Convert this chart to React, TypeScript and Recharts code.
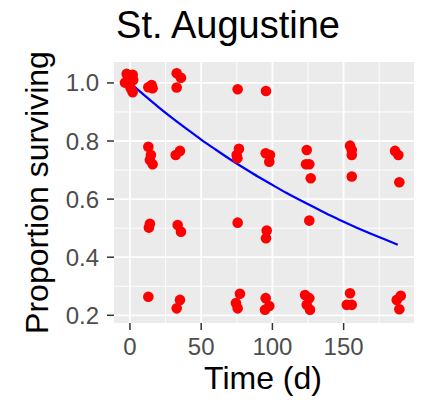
import React from 'react';
import { ComposedChart, Scatter, Line, XAxis, YAxis, CartesianGrid } from 'recharts';

// observed proportions, jittered around each sampling day
const obsTime = [
  -2.3, 1.9, -3.5, 2.3, 0.5, 1.9,
  12.9, 15.2, 15.9, 12.9, 14.7, 14.0, 15.9, 13.3, 14.0, 12.9,
  32.8, 35.8, 32.8, 32.1, 35.1, 33.5, 35.8, 32.8, 35.1,
  75.6, 76.5, 74.9, 75.4, 75.6, 77.2, 74.4, 75.6,
  95.5, 95.3, 98.3, 97.8, 96.0, 95.5, 95.3, 97.8, 94.8,
  124.1, 123.6, 125.9, 126.9, 125.9, 122.9, 125.9, 124.1, 126.4,
  154.5, 155.7, 155.7, 155.7, 154.5, 152.2, 155.7,
  186.1, 188.4, 189.1, 187.3, 190.1, 189.1,
];
const obsProp = [
  1.031, 1.028, 1.001, 1.01, 0.982, 0.968,
  0.985, 0.993, 0.982, 0.78, 0.752, 0.735, 0.72, 0.502, 0.515, 0.264,
  1.033, 1.018, 0.984, 0.752, 0.766, 0.511, 0.488, 0.224, 0.253,
  0.978, 0.773, 0.752, 0.741, 0.519, 0.274, 0.242, 0.224,
  0.972, 0.758, 0.752, 0.729, 0.492, 0.465, 0.259, 0.232, 0.219,
  0.769, 0.72, 0.72, 0.672, 0.526, 0.27, 0.259, 0.236, 0.219,
  0.784, 0.769, 0.752, 0.678, 0.276, 0.236, 0.236,
  0.766, 0.752, 0.658, 0.253, 0.267, 0.221,
];

// fitted curve
const fitTime = [0, 10, 20, 30, 40, 50, 60, 70, 80, 90, 100, 110, 120, 130, 140, 150, 160, 170, 180, 188];
const fitProp = [1.0, 0.958, 0.917, 0.878, 0.841, 0.805, 0.771, 0.738, 0.707, 0.677, 0.649, 0.621, 0.595, 0.57, 0.545, 0.522, 0.5, 0.479, 0.459, 0.443];

const xTicks = [0, 50, 100, 150];
const yTicks = [0.2, 0.4, 0.6, 0.8, 1.0];
const xMinor = [25, 75, 125, 175];
const yMinor = [0.3, 0.5, 0.7, 0.9];

const points = obsTime.map((t, i) => ({ t, p: obsProp[i] }));
const curve = fitTime.map((t, i) => ({ t, p: fitProp[i] }));

const font = '"Liberation Sans", Arial, sans-serif';
const tickStyle = { fontSize: 24, fill: '#4D4D4D', fontFamily: font };

export default function App() {
  return (
    <div style={{ position: 'absolute', left: 0, top: 0, width: 423, height: 402, background: '#fff' }}>
      <ComposedChart width={423} height={402} margin={{ top: 62, right: 9, bottom: 0, left: 0 }}>
        <CartesianGrid
          fill="#EBEBEB"
          stroke="#fff"
          strokeWidth={0.9}
          horizontalValues={yMinor}
          verticalValues={xMinor}
        />
        <CartesianGrid stroke="#fff" strokeWidth={1.8} horizontalValues={yTicks} verticalValues={xTicks} />
        <XAxis
          type="number"
          dataKey="t"
          domain={[-11.2, 199.4]}
          allowDataOverflow
          ticks={xTicks}
          height={79}
          axisLine={false}
          tickSize={7}
          tickMargin={8}
          tickLine={{ stroke: '#333', strokeWidth: 1.5 }}
          tick={tickStyle}
        />
        <YAxis
          type="number"
          dataKey="p"
          domain={[0.1735, 1.072]}
          allowDataOverflow
          ticks={yTicks}
          width={114}
          axisLine={false}
          tickSize={7}
          tickMargin={8}
          tickLine={{ stroke: '#333', strokeWidth: 1.5 }}
          tick={tickStyle}
          tickFormatter={(v: number) => v.toFixed(1)}
        />
        <Scatter
          data={points}
          dataKey="p"
          fill="#FF0000"
          isAnimationActive={false}
          shape={(props: any) => <circle cx={props.cx} cy={props.cy} r={5.3} fill="#FF0000" />}
        />
        <Line
          data={curve}
          dataKey="p"
          type="monotone"
          stroke="#0000FF"
          strokeWidth={2.2}
          dot={false}
          activeDot={false}
          isAnimationActive={false}
        />
      </ComposedChart>
      <svg width={423} height={402} style={{ position: 'absolute', left: 0, top: 0, pointerEvents: 'none' }}>
        <text x={228} y={38} textAnchor="middle" fontSize={38} fontFamily={font} fill="#000">
          St. Augustine
        </text>
        <text x={263} y={389} textAnchor="middle" fontSize={32} fontFamily={font} fill="#000">
          Time (d)
        </text>
        <text
          x={0}
          y={0}
          transform="translate(48,192.5) rotate(-90)"
          textAnchor="middle"
          fontSize={32}
          fontFamily={font}
          fill="#000"
        >
          Proportion surviving
        </text>
      </svg>
    </div>
  );
}
